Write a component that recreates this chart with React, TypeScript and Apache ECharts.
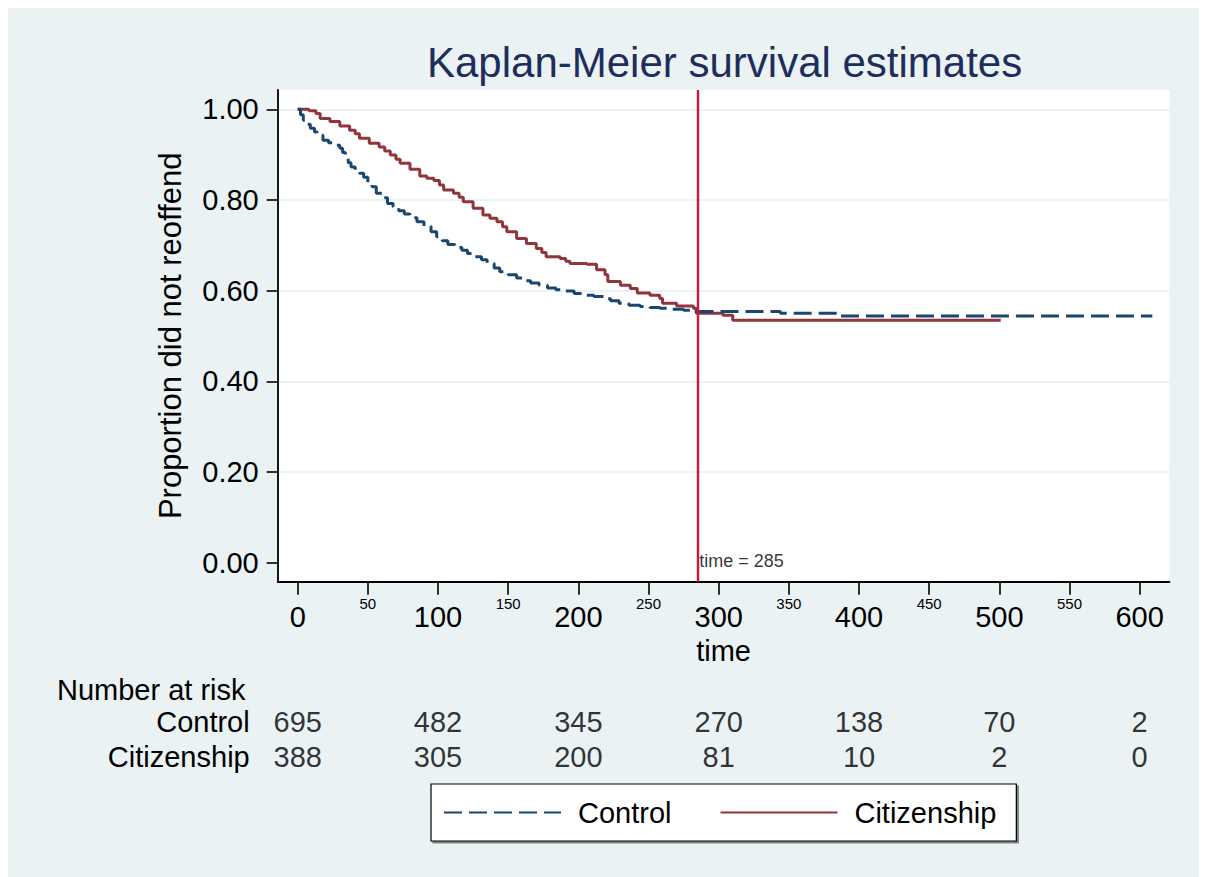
import React, { useEffect, useRef } from "react";
import * as echarts from "echarts";

// ---- Data ----
const controlTimes = [0, 2, 4, 7, 9, 12, 14, 18, 22, 26, 30, 32, 34, 36, 38, 41, 44, 47, 50, 53, 56, 60, 64, 68, 72, 76, 80, 85, 90, 95, 99, 103, 107, 112, 117, 121, 126, 131, 135, 140, 144, 150, 156, 160, 166, 172, 178, 184, 190, 197, 205, 211, 218, 223, 229, 236, 244, 251, 258, 266, 275, 284, 344, 386, 609];
const controlSurv = [1.0, 0.988, 0.976, 0.967, 0.958, 0.95, 0.943, 0.932, 0.926, 0.921, 0.914, 0.905, 0.892, 0.882, 0.873, 0.866, 0.859, 0.85, 0.838, 0.829, 0.815, 0.805, 0.792, 0.785, 0.776, 0.769, 0.761, 0.752, 0.742, 0.73, 0.719, 0.71, 0.702, 0.695, 0.689, 0.682, 0.675, 0.668, 0.66, 0.65, 0.642, 0.635, 0.628, 0.622, 0.617, 0.612, 0.606, 0.602, 0.599, 0.594, 0.59, 0.587, 0.582, 0.578, 0.572, 0.568, 0.565, 0.563, 0.561, 0.559, 0.557, 0.554, 0.55, 0.544, 0.544];

const citizenTimes = [0, 8, 13, 16, 23, 30, 37, 41, 44, 51, 58, 62, 66, 70, 73, 80, 87, 92, 97, 101, 104, 111, 115, 118, 125, 132, 137, 142, 146, 149, 156, 163, 170, 174, 177, 187, 191, 194, 206, 213, 219, 221, 230, 237, 242, 251, 258, 260, 270, 282, 284, 303, 310, 501];
const citizenSurv = [1.0, 0.997, 0.991, 0.98, 0.973, 0.963, 0.954, 0.946, 0.936, 0.925, 0.917, 0.908, 0.899, 0.89, 0.881, 0.868, 0.853, 0.848, 0.843, 0.833, 0.822, 0.815, 0.806, 0.796, 0.782, 0.767, 0.76, 0.752, 0.741, 0.73, 0.715, 0.704, 0.693, 0.684, 0.675, 0.671, 0.665, 0.66, 0.658, 0.646, 0.635, 0.62, 0.612, 0.605, 0.595, 0.59, 0.583, 0.572, 0.566, 0.561, 0.55, 0.546, 0.535, 0.535];

const xTickValues = [0, 50, 100, 150, 200, 250, 300, 350, 400, 450, 500, 550, 600];
const xMajorLabels = [0, 100, 200, 300, 400, 500, 600];
const xMinorLabels = [50, 150, 250, 350, 450, 550];
const yTickValues = [0, 0.2, 0.4, 0.6, 0.8, 1];
const yGridValues = [0.2, 0.4, 0.6, 0.8, 1];

const riskTimes = [0, 100, 200, 300, 400, 500, 600];
const riskGroups = ["Control", "Citizenship"];
const controlAtRisk = [695, 482, 345, 270, 138, 70, 2];
const citizenAtRisk = [388, 305, 200, 81, 10, 2, 0];

const markerTime = 285;

const FONT = "'Liberation Sans', Arial, Helvetica, sans-serif";
const X_MIN = -14.25;
const X_MAX = 621.25;
const Y_MIN = -0.0419;
const Y_MAX = 1.0426;

export default function App() {
  const ref = useRef<HTMLDivElement>(null);

  useEffect(() => {
    if (!ref.current) return;
    const chart = echarts.init(ref.current, undefined, { renderer: "svg" });

    const gridCommon = { left: 269.7, right: 37.5 };

    const riskLabel = {
      show: true,
      position: "inside",
      formatter: (p: any) => String(p.value[2]),
      fontSize: 29,
      color: "#000",
      fontFamily: FONT,
    };

    const option: any = {
      animation: false,
      backgroundColor: "#EAF2F3",
      textStyle: { fontFamily: FONT },
      title: {
        text: "Kaplan-Meier survival estimates",
        left: 419,
        top: 33,
        padding: 0,
        textStyle: { fontSize: 42, fontWeight: "normal", color: "#1E2E5C", fontFamily: FONT },
      },
      legend: {
        data: ["Control", "Citizenship"],
        left: 423,
        top: 776,
        orient: "horizontal",
        padding: [14, 20, 14, 12],
        itemWidth: 117,
        itemHeight: 29,
        itemGap: 48,
        backgroundColor: "#ffffff",
        borderColor: "#000000",
        borderWidth: 1.2,
        borderRadius: 0,
        shadowColor: "rgba(0,0,0,0.45)",
        shadowBlur: 0,
        shadowOffsetX: 2,
        shadowOffsetY: 2,
        itemStyle: { opacity: 0, color: "rgba(0,0,0,0)", borderWidth: 0 },
        textStyle: { fontSize: 29, color: "#000", fontFamily: FONT, padding: [0, 0, 0, 12], lineHeight: 29 },
        selectedMode: false,
      },
      grid: [
        { ...gridCommon, top: 82, height: 491.7, show: true, backgroundColor: "#ffffff", borderWidth: 0 },
        { ...gridCommon, top: 696.5, height: 70, show: false },
      ],
      xAxis: [
        {
          type: "value",
          gridIndex: 0,
          position: "bottom",
          min: X_MIN,
          max: X_MAX,
          axisLine: { show: true, onZero: false, lineStyle: { color: "#000", width: 1.8 } },
          axisTick: { show: true, customValues: xTickValues, length: 13, lineStyle: { color: "#000", width: 1.6 } },
          axisLabel: { show: true, customValues: xMajorLabels, fontSize: 29, margin: 21, color: "#000", fontFamily: FONT },
          splitLine: { show: false },
          name: "time",
          nameLocation: "middle",
          nameGap: 52,
          nameTextStyle: { fontSize: 29, color: "#000", fontFamily: FONT },
        },
        {
          type: "value",
          gridIndex: 0,
          position: "bottom",
          offset: 0,
          min: X_MIN,
          max: X_MAX,
          axisLine: { show: false },
          axisTick: { show: false },
          axisLabel: { show: true, customValues: xMinorLabels, fontSize: 15, margin: 14, color: "#000", fontFamily: FONT },
          splitLine: { show: false },
        },
        {
          type: "value",
          gridIndex: 1,
          min: X_MIN,
          max: X_MAX,
          show: false,
        },
      ],
      yAxis: [
        {
          type: "value",
          gridIndex: 0,
          min: Y_MIN,
          max: Y_MAX,
          axisLine: { show: true, onZero: false, lineStyle: { color: "#000", width: 1.8 } },
          axisTick: { show: true, customValues: yTickValues, length: 11, lineStyle: { color: "#000", width: 1.6 } },
          axisLabel: {
            show: true,
            customValues: yTickValues,
            fontSize: 29,
            margin: 19,
            color: "#000",
            fontFamily: FONT,
            formatter: (v: number) => v.toFixed(2),
          },
          splitLine: { show: false },
          name: "Proportion did not reoffend",
          nameLocation: "middle",
          nameGap: 92,
          nameTextStyle: { fontSize: 31, color: "#000", fontFamily: FONT },
        },
        {
          type: "value",
          gridIndex: 0,
          min: Y_MIN,
          max: Y_MAX,
          axisLine: { show: false },
          axisTick: { show: false, customValues: yGridValues },
          axisLabel: { show: false, customValues: yGridValues },
          splitLine: { show: true, lineStyle: { color: "#EAF2F3", width: 2.2 } },
        },
        {
          type: "category",
          gridIndex: 1,
          data: riskGroups,
          inverse: true,
          axisLine: { show: false },
          axisTick: { show: false },
          axisLabel: { show: true, interval: 0, fontSize: 29, margin: 28, color: "#000", fontFamily: FONT },
          splitLine: { show: false },
        },
      ],
      series: [
        {
          name: "Control",
          type: "line",
          step: "end",
          xAxisIndex: 0,
          yAxisIndex: 0,
          data: controlTimes.map((t, i) => [t, controlSurv[i]]),
          symbol: "none",
          showSymbol: false,
          color: "#1A476F",
          lineStyle: { color: "#1A476F", width: 3, type: [18, 7] },
          z: 3,
        },
        {
          name: "Citizenship",
          type: "line",
          step: "end",
          xAxisIndex: 0,
          yAxisIndex: 0,
          data: citizenTimes.map((t, i) => [t, citizenSurv[i]]),
          symbol: "none",
          showSymbol: false,
          color: "#90353B",
          lineStyle: { color: "#90353B", width: 3, type: "solid" },
          z: 2,
        },
        {
          name: "marker",
          type: "scatter",
          xAxisIndex: 0,
          yAxisIndex: 0,
          data: [[markerTime, 0.004]],
          symbolSize: 1,
          itemStyle: { color: "rgba(0,0,0,0)" },
          label: {
            show: true,
            position: "right",
            distance: 1,
            formatter: () => `time = ${markerTime}`,
            fontSize: 18,
            color: "#000",
            fontFamily: FONT,
          },
          markLine: {
            silent: true,
            symbol: "none",
            label: { show: false },
            lineStyle: { color: "#D2143A", width: 2.4, type: "solid" },
            data: [{ xAxis: markerTime }],
          },
          z: 5,
        },
        {
          name: "riskControl",
          type: "scatter",
          xAxisIndex: 2,
          yAxisIndex: 2,
          data: riskTimes.map((t, i) => [t, riskGroups[0], controlAtRisk[i]]),
          symbolSize: 1,
          itemStyle: { color: "rgba(0,0,0,0)" },
          label: riskLabel,
        },
        {
          name: "riskCitizen",
          type: "scatter",
          xAxisIndex: 2,
          yAxisIndex: 2,
          data: riskTimes.map((t, i) => [t, riskGroups[1], citizenAtRisk[i]]),
          symbolSize: 1,
          itemStyle: { color: "rgba(0,0,0,0)" },
          label: riskLabel,
        },
      ],
      graphic: [
        {
          type: "text",
          left: 49,
          top: 667.5,
          style: { text: "Number at risk", fontSize: 29, fontFamily: FONT, fill: "#000" },
        },
      ],
    };

    chart.setOption(option);
    return () => chart.dispose();
  }, []);

  return <div ref={ref} style={{ width: 1199, height: 869 }} />;
}
